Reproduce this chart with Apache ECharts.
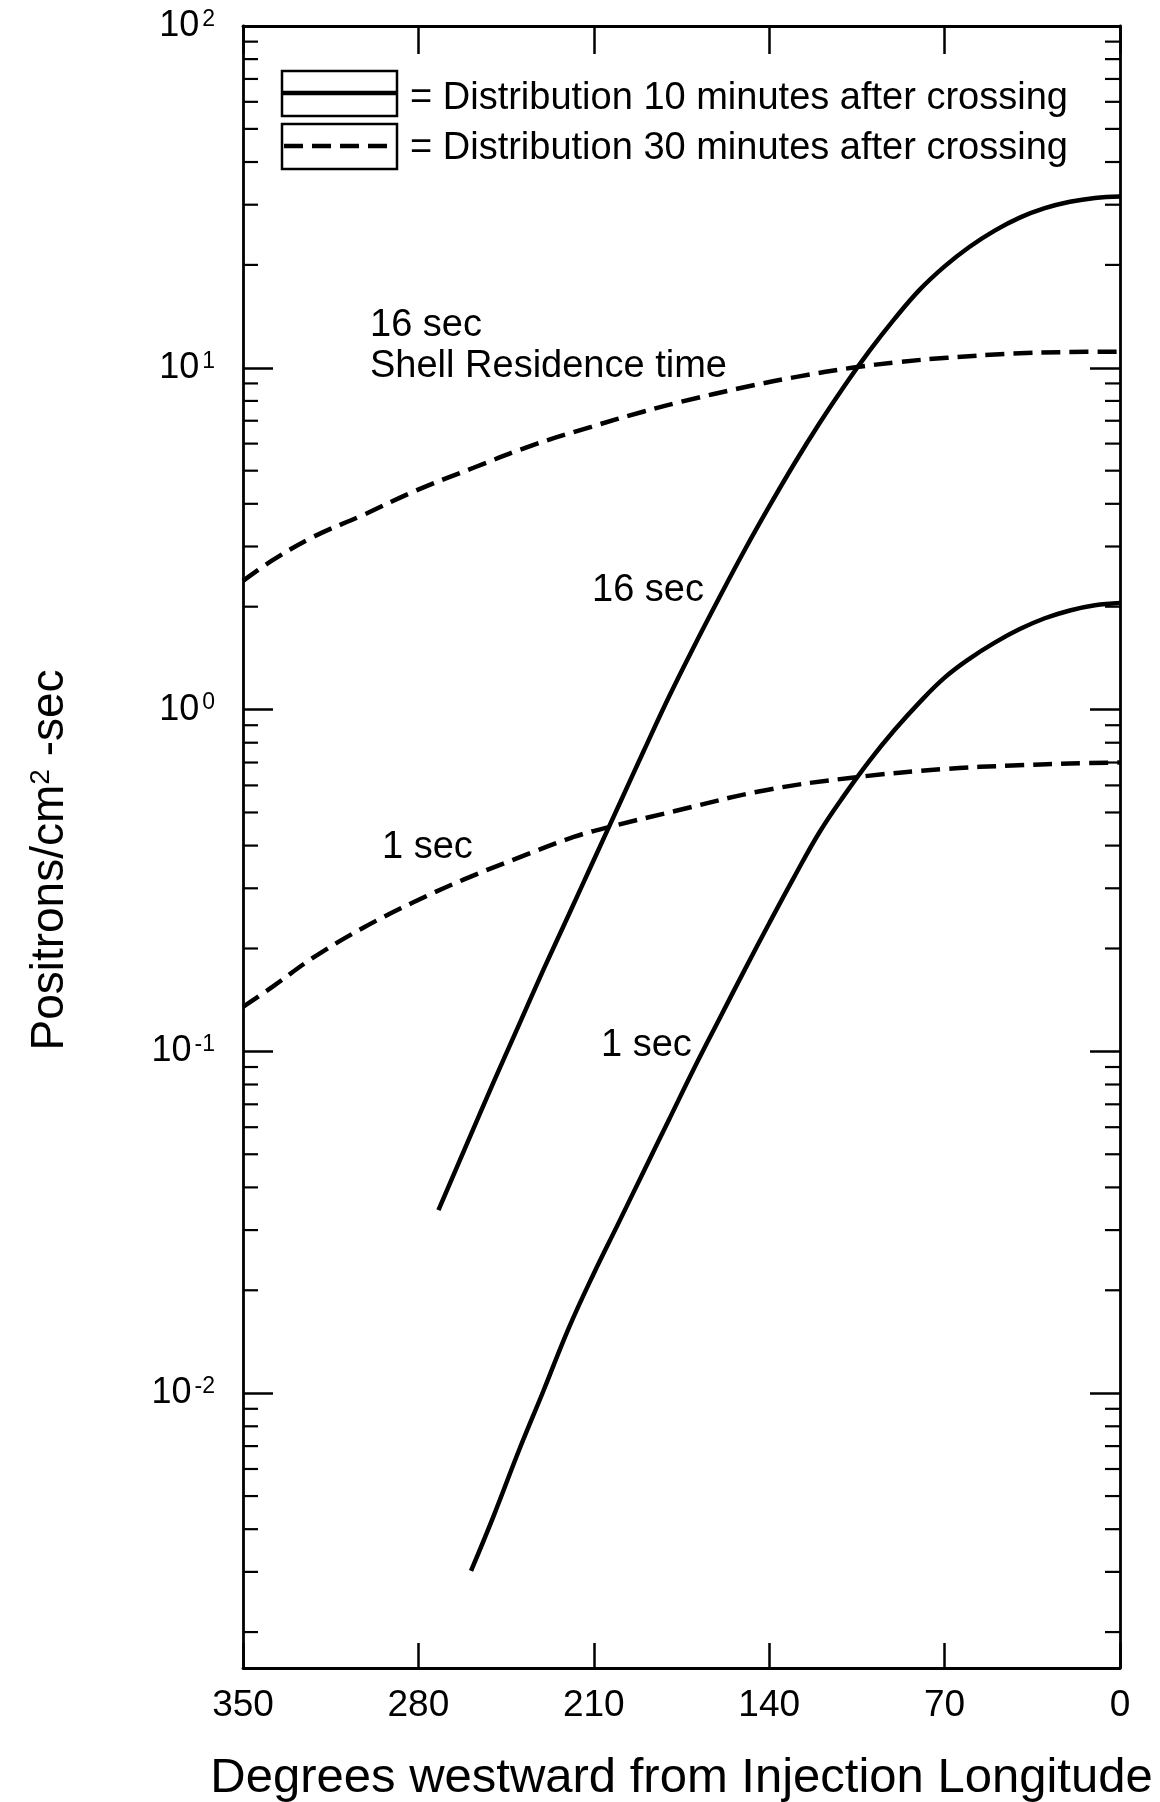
<!DOCTYPE html>
<html>
<head>
<meta charset="utf-8">
<title>Positrons vs degrees westward</title>
<script src="https://cdn.jsdelivr.net/npm/echarts@6.0.0/dist/echarts.min.js"></script>
<style>
  html, body { margin: 0; padding: 0; background: #fff; }
  #chart { width: 1160px; height: 1802px; }
</style>
</head>
<body>
<div id="chart"></div>
<script>
    // degrees westward from injection longitude (x) and positrons/cm2-sec (y)
    var solid16Deg = [272, 260, 250, 240, 230, 220, 210, 200, 190, 180, 170, 160, 150, 140, 130, 120, 110, 100, 90, 80, 70, 60, 50, 40, 30, 20, 10, 0];
    var solid16Val = [0.0343, 0.0550, 0.0813, 0.119, 0.174, 0.251, 0.363, 0.525, 0.759, 1.09, 1.53, 2.12, 2.91, 3.93, 5.24, 6.87, 8.85, 11.2, 13.9, 16.9, 19.8, 22.6, 25.2, 27.5, 29.3, 30.6, 31.4, 31.7];

    var solid1Deg = [259, 250, 240, 230, 220, 210, 200, 190, 180, 170, 160, 150, 140, 130, 120, 110, 100, 90, 80, 70, 60, 50, 40, 30, 20, 10, 0];
    var solid1Val = [0.00302, 0.00437, 0.00676, 0.0102, 0.0155, 0.0224, 0.0316, 0.0447, 0.0631, 0.0891, 0.124, 0.172, 0.237, 0.324, 0.437, 0.562, 0.708, 0.871, 1.05, 1.24, 1.41, 1.57, 1.72, 1.85, 1.95, 2.02, 2.05];

    var dash16Deg = [350, 338, 322, 302, 282, 258, 234, 211, 190, 175, 150, 128, 107, 88, 69, 43, 20, 0];
    var dash16Val = [2.38, 2.74, 3.20, 3.71, 4.34, 5.10, 5.95, 6.72, 7.45, 7.96, 8.77, 9.44, 10.0, 10.4, 10.7, 11.0, 11.12, 11.15];

    var dash1Deg = [350, 338, 322, 302, 282, 262, 242, 218, 203, 178, 142, 107, 69, 43, 20, 0];
    var dash1Val = [0.135, 0.155, 0.188, 0.230, 0.273, 0.318, 0.364, 0.424, 0.455, 0.504, 0.580, 0.632, 0.671, 0.686, 0.695, 0.70];

    var xTicks = [350, 280, 210, 140, 70, 0];
    var yDecades = [0.001, 0.01, 0.1, 1, 10];
    var minorSteps = [2, 3, 4, 5, 6, 7, 8, 9];

    var FONT = '"Liberation Sans", Arial, Helvetica, sans-serif';
    var NAME10 = '= Distribution 10 minutes after crossing';
    var NAME30 = '= Distribution 30 minutes after crossing';
    var DASH = [19, 9];

    var minorTicks = [];
    yDecades.forEach(function (d) {
        minorSteps.forEach(function (s) { minorTicks.push([0, d * s]); });
    });

    function pairs(xs, ys) {
        return xs.map(function (x, i) { return [x, ys[i]]; });
    }

    function lineSeries(name, xs, ys, dashed) {
        return {
            name: name,
            type: 'line',
            data: pairs(xs, ys),
            smooth: 0.4,
            symbol: 'none',
            silent: true,
            lineStyle: { color: '#000', width: 4.5, type: dashed ? DASH : 'solid' }
        };
    }

    function renderMinorTick(params, api) {
        var v = api.value(1);
        var l = api.coord([xTicks[0], v]);
        var r = api.coord([xTicks[xTicks.length - 1], v]);
        return {
            type: 'group',
            children: [
                { type: 'line', shape: { x1: l[0], y1: l[1], x2: l[0] + 15, y2: l[1] }, style: { stroke: '#000', lineWidth: 2.2 } },
                { type: 'line', shape: { x1: r[0], y1: r[1], x2: r[0] - 15, y2: r[1] }, style: { stroke: '#000', lineWidth: 2.2 } }
            ]
        };
    }

    function decadeLabel(v) {
        var e = Math.log10(v);
        var k = Math.round(e);
        if (Math.abs(e - k) > 1e-6) return '';
        return '{b|10}{s|' + k + '}';
    }

    function legendText(y, text) {
        return { type: 'text', x: 410, y: y, style: { text: text, font: '38px ' + FONT, fill: '#000', verticalAlign: 'middle' } };
    }

    function note(x, y, text) {
        return { type: 'text', x: x, y: y, style: { text: text, font: '38px ' + FONT, fill: '#000', verticalAlign: 'middle' } };
    }

    var axisLine = { show: true, onZero: false, lineStyle: { color: '#000', width: 2.8 } };

    var yCommon = {
        type: 'log',
        logBase: 10,
        min: 0.00157,
        max: 100,
        splitLine: { show: false },
        axisLine: axisLine,
        axisTick: { show: true, inside: true, length: 30, lineStyle: { color: '#000', width: 2.5 } }
    };

    var xCommon = {
        type: 'value',
        min: 0,
        max: 350,
        interval: 70,
        inverse: true,
        splitLine: { show: false },
        axisLine: axisLine
    };

    var chart = echarts.init(document.getElementById('chart'));
    chart.setOption({
        animation: false,
        backgroundColor: '#fff',
        textStyle: { fontFamily: FONT, color: '#000' },
        grid: { left: 243, right: 40, top: 26, bottom: 134, containLabel: false, outerBoundsMode: 'none' },
        xAxis: [
            Object.assign({}, xCommon, {
                position: 'bottom',
                axisTick: { show: true, inside: true, length: 25, lineStyle: { color: '#000', width: 2.5 } },
                axisLabel: { show: true, margin: 19, fontSize: 37, fontFamily: FONT, color: '#000' },
                name: 'Degrees westward from Injection Longitude',
                nameLocation: 'middle',
                nameGap: 86,
                nameTextStyle: { fontSize: 49, fontFamily: FONT, color: '#000' }
            }),
            Object.assign({}, xCommon, {
                position: 'top',
                axisTick: { show: true, inside: true, length: 28, lineStyle: { color: '#000', width: 2.5 } },
                axisLabel: { show: false }
            })
        ],
        yAxis: [
            Object.assign({}, yCommon, {
                position: 'left',
                axisLabel: {
                    show: true,
                    margin: 28,
                    fontSize: 36,
                    formatter: decadeLabel,
                    color: '#000',
                    rich: {
                        b: { fontSize: 36, fontFamily: FONT, color: '#000' },
                        s: { fontSize: 23, fontFamily: FONT, color: '#000', verticalAlign: 'top', padding: [0, 0, 0, 3] }
                    }
                },
                name: 'Positrons/cm{s|2} -sec',
                nameLocation: 'middle',
                nameGap: 170,
                nameTextStyle: {
                    fontSize: 46, fontFamily: FONT, color: '#000',
                    padding: [0, 26, 0, 0],
                    rich: { s: { fontSize: 28, fontFamily: FONT, color: '#000', verticalAlign: 'top' } }
                }
            }),
            Object.assign({}, yCommon, {
                position: 'right',
                axisLabel: { show: false }
            })
        ],
        graphic: [
            // legend: boxed line samples
            { type: 'rect', shape: { x: 282, y: 71, width: 115, height: 45 }, style: { fill: 'none', stroke: '#000', lineWidth: 2.5 } },
            { type: 'rect', shape: { x: 282, y: 124, width: 115, height: 45 }, style: { fill: 'none', stroke: '#000', lineWidth: 2.5 } },
            { type: 'line', shape: { x1: 282, y1: 93, x2: 397, y2: 93 }, style: { stroke: '#000', lineWidth: 4.5 } },
            { type: 'line', shape: { x1: 284, y1: 146, x2: 397, y2: 146 }, style: { stroke: '#000', lineWidth: 4.5, lineDash: DASH } },
            legendText(99, NAME10),
            legendText(149, NAME30),
            note(370, 326, '16 sec'),
            note(370, 367, 'Shell Residence time'),
            note(592, 591, '16 sec'),
            note(382, 848, '1 sec'),
            note(601, 1046, '1 sec')
        ],
        series: [
            lineSeries(NAME10, solid16Deg, solid16Val, false),
            lineSeries(NAME10, solid1Deg, solid1Val, false),
            lineSeries(NAME30, dash16Deg, dash16Val, true),
            lineSeries(NAME30, dash1Deg, dash1Val, true),
            {
                type: 'custom',
                name: 'minor ticks',
                silent: true,
                data: minorTicks,
                encode: { x: 0, y: 1 },
                renderItem: renderMinorTick,
                z: 5
            }
        ]
    });
</script>
</body>
</html>
